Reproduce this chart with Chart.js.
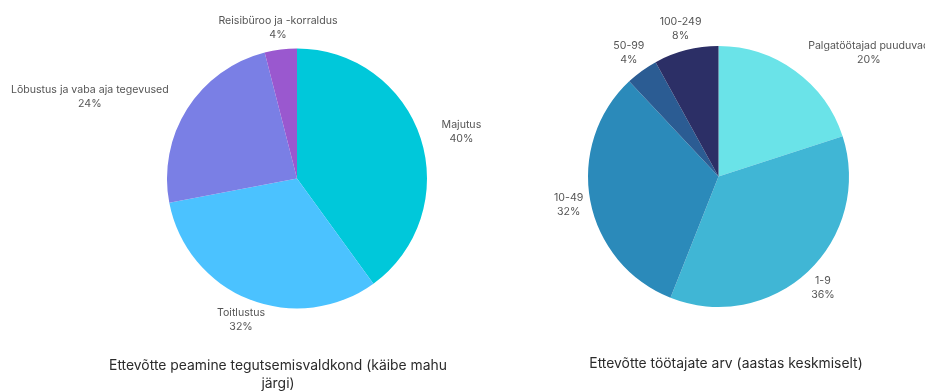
<!DOCTYPE html>
<html>
<head>
<meta charset="utf-8">
<script src="https://cdn.jsdelivr.net/npm/chart.js@4/dist/chart.umd.min.js"></script>
<style>
  html, body { margin: 0; padding: 0; background: #ffffff; overflow: hidden; }
  #wrap { position: relative; width: 925px; height: 391px; overflow: hidden; background: #fff; }
  canvas { position: absolute; top: 0; }
  #c1 { left: 0px; }
  #c2 { left: 462px; }
</style>
</head>
<body>
<div id="wrap">
  <canvas id="c1" width="556" height="391"></canvas>
  <canvas id="c2" width="528" height="391"></canvas>
</div>
<script>
// ---- data ----
const leftLabels = ['Majutus', 'Toitlustus', 'Lõbustus ja vaba aja tegevused', 'Reisibüroo ja -korraldus'];
const leftValues = [40, 32, 24, 4];
const leftColors = ['#00C8DA', '#4BC2FF', '#7A7FE5', '#9A58CF'];
const leftTitle = ['Ettevõtte peamine tegutsemisvaldkond (käibe mahu', 'järgi)'];
const leftLabelModes = ['side', 'center', 'side', 'center'];

const rightLabels = ['Palgatöötajad puuduvad', '1-9', '10-49', '50-99', '100-249'];
const rightValues = [20, 36, 32, 4, 8];
const rightColors = ['#6AE3E8', '#40B6D5', '#2B8ABA', '#2B5C93', '#2C2F66'];
const rightTitle = ['Ettevõtte töötajate arv (aastas keskmiselt)'];
const rightLabelModes = ['side', 'center', 'center', 'center', 'center'];

const FONT = 'Inter, "DejaVu Sans", sans-serif';

const outsideLabels = {
  id: 'outsideLabels',
  afterDatasetsDraw(chart, args, opts) {
    const ctx = chart.ctx;
    const meta = chart.getDatasetMeta(0);
    const data = chart.data.datasets[0].data;
    const total = data.reduce((a, b) => a + b, 0);
    ctx.save();
    ctx.font = '10.6px ' + FONT;
    ctx.fillStyle = '#555555';
    ctx.textBaseline = 'middle';
    ctx.textAlign = 'center';
    const lh = 14;
    meta.data.forEach((arc, i) => {
      const p = arc.getProps(['x', 'y', 'startAngle', 'endAngle', 'outerRadius'], true);
      const mid = (p.startAngle + p.endAngle) / 2;
      const c = Math.cos(mid), s = Math.sin(mid);
      const lines = [chart.data.labels[i], Math.round(data[i] / total * 100) + '%'];
      const w = Math.max(...lines.map(t => ctx.measureText(t).width));
      let cx = p.x + (p.outerRadius + 22) * c;
      const cy = p.y + (p.outerRadius + 22) * s;
      if (opts.modes[i] === 'side') {
        cx += (c >= 0 ? 1 : -1) * w / 2;
      }
      ctx.fillText(lines[0], cx, cy - lh / 2);
      ctx.fillText(lines[1], cx, cy + lh / 2);
    });
    ctx.restore();
  }
};

const bottomTitle = {
  id: 'bottomTitle',
  afterDraw(chart, args, opts) {
    const ctx = chart.ctx;
    ctx.save();
    ctx.font = '13.9px ' + FONT;
    ctx.fillStyle = '#2b2b2b';
    ctx.textAlign = 'center';
    ctx.textBaseline = 'middle';
    const x = chart.width / 2;
    let y = chart.chartArea.bottom + 57;
    opts.lines.forEach(l => { ctx.fillText(l, x, y); y += 18; });
    ctx.restore();
  }
};

function makePie(id, labels, values, colors, modes, title, padding) {
  return new Chart(document.getElementById(id), {
    type: 'pie',
    data: {
      labels: labels,
      datasets: [{ data: values, backgroundColor: colors, borderWidth: 0, hoverOffset: 0 }]
    },
    options: {
      responsive: false,
      animation: false,
      events: [],
      layout: { padding: padding },
      plugins: {
        legend: { display: false },
        tooltip: { enabled: false },
        outsideLabels: { modes: modes },
        bottomTitle: { lines: title }
      }
    },
    plugins: [outsideLabels, bottomTitle]
  });
}

makePie('c1', leftLabels, leftValues, leftColors, leftLabelModes, leftTitle,
  { top: 48.5, bottom: 82.5, left: 38, right: 0 });
makePie('c2', rightLabels, rightValues, rightColors, rightLabelModes, rightTitle,
  { top: 46, bottom: 84, left: 0, right: 15 });
</script>
</body>
</html>
